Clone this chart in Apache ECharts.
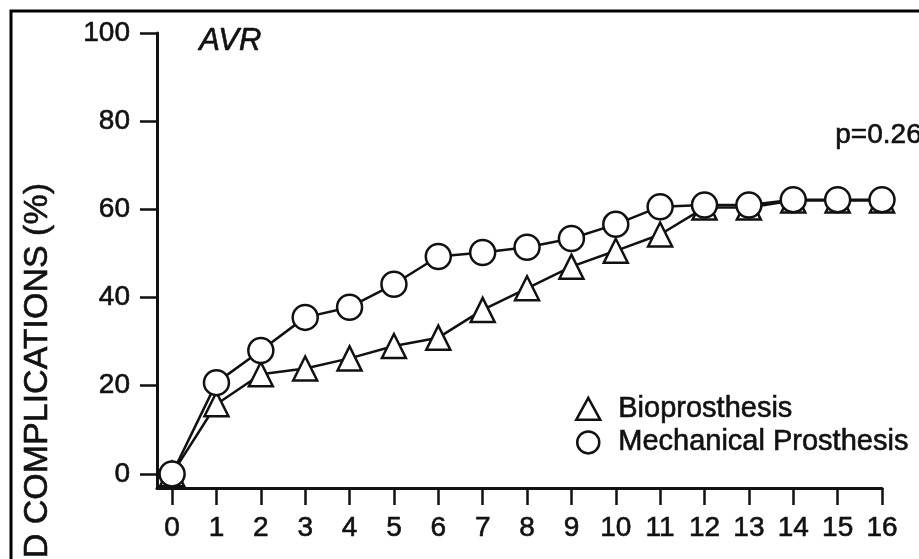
<!DOCTYPE html>
<html>
<head>
<meta charset="utf-8">
<script src="https://cdn.jsdelivr.net/npm/echarts@6/dist/echarts.min.js"></script>
<style>
  html, body { margin: 0; padding: 0; background: #fff; }
  #chart { width: 919px; height: 559px; }
</style>
</head>
<body>
<div id="chart"></div>
<script>
// years after operation
const years = [0, 1, 2, 3, 4, 5, 6, 7, 8, 9, 10, 11, 12, 13, 14, 15, 16];
// cumulative complications (%)
const bioData = [0, 15.8, 22.6, 23.9, 26.2, 29, 30.9, 37.2, 42.1, 47, 50.6, 54.3, 60.4, 60.4, 62, 62, 62];
const mechData = [0, 20.7, 28, 35.5, 37.8, 43, 49.3, 50.2, 51.4, 53.4, 56.6, 60.6, 61, 61, 62.2, 62.2, 62.2];
const yTicks = [0, 20, 40, 60, 80, 100];
const seriesNames = ["Bioprosthesis", "Mechanical Prosthesis"];

const font = "Liberation Sans";
const ink = "#111";
// the scanned text looks a bit heavy, thicken it slightly
const heavy = { textBorderColor: ink, textBorderWidth: 0.6 };

const chart = echarts.init(document.getElementById("chart"), null, { renderer: "canvas" });

const pairs = (vals) => years.map((x, i) => [x, vals[i]]);

chart.setOption({
  animation: false,
  backgroundColor: "#fff",
  grid: { left: 157, right: 37, top: 33, bottom: 71 },
  xAxis: {
    type: "value",
    min: -0.34,
    max: 16,
    splitLine: { show: false },
    axisLine: { onZero: false, lineStyle: { color: ink, width: 3 } },
    axisTick: { customValues: years, length: 17, lineStyle: { color: ink, width: 2.5 } },
    axisLabel: Object.assign({ customValues: years, margin: 26, fontSize: 28, fontFamily: font, color: ink }, heavy)
  },
  yAxis: {
    type: "value",
    min: -3.2,
    max: 100,
    splitLine: { show: false },
    axisLine: { show: true, onZero: false, lineStyle: { color: ink, width: 3 } },
    axisTick: { show: true, customValues: yTicks, length: 17, lineStyle: { color: ink, width: 2.5 } },
    axisLabel: Object.assign({ customValues: yTicks, margin: 27, fontSize: 28, fontFamily: font, color: ink }, heavy)
  },
  legend: {
    orient: "vertical",
    left: 570,
    top: 389,
    itemWidth: 24,
    itemHeight: 22,
    itemGap: 4,
    textStyle: Object.assign({ fontSize: 29, fontFamily: font, color: ink, padding: [0, 0, 0, 13] }, heavy),
    data: [
      { name: seriesNames[0], icon: "triangle", itemStyle: { color: "#fff", borderColor: ink, borderWidth: 2.5 } },
      { name: seriesNames[1], icon: "circle", itemStyle: { color: "#fff", borderColor: ink, borderWidth: 2.5 } }
    ]
  },
  graphic: [
    {
      type: "rect",
      shape: { x: 11, y: 11, width: 1000, height: 1000 },
      style: { fill: "none", stroke: "#000", lineWidth: 3 },
      silent: true
    },
    {
      type: "text",
      left: 199,
      top: 26,
      style: { text: "AVR", font: "italic 31px Liberation Sans", fill: ink, stroke: ink, lineWidth: 0.6 }
    },
    {
      type: "text",
      left: 835,
      top: 121,
      style: { text: "p=0.26", font: "28px Liberation Sans", fill: ink, stroke: ink, lineWidth: 0.6 }
    },
    {
      type: "text",
      x: 38,
      y: 183,
      rotation: Math.PI / 2,
      style: {
        text: "D COMPLICATIONS (%)",
        font: "34px Liberation Sans",
        fill: ink,
        stroke: ink,
        lineWidth: 0.6,
        align: "right",
        verticalAlign: "middle"
      }
    }
  ],
  series: [
    {
      name: seriesNames[0],
      type: "line",
      data: pairs(bioData),
      symbol: "triangle",
      symbolSize: 24,
      showAllSymbol: true,
      lineStyle: { color: ink, width: 2.5 },
      itemStyle: { color: "#fff", borderColor: ink, borderWidth: 2.5 },
      z: 2
    },
    {
      name: seriesNames[1],
      type: "line",
      data: pairs(mechData),
      symbol: "circle",
      symbolSize: 25,
      showAllSymbol: true,
      lineStyle: { color: ink, width: 2.5 },
      itemStyle: { color: "#fff", borderColor: ink, borderWidth: 2.5 },
      z: 3
    }
  ]
});
</script>
</body>
</html>
